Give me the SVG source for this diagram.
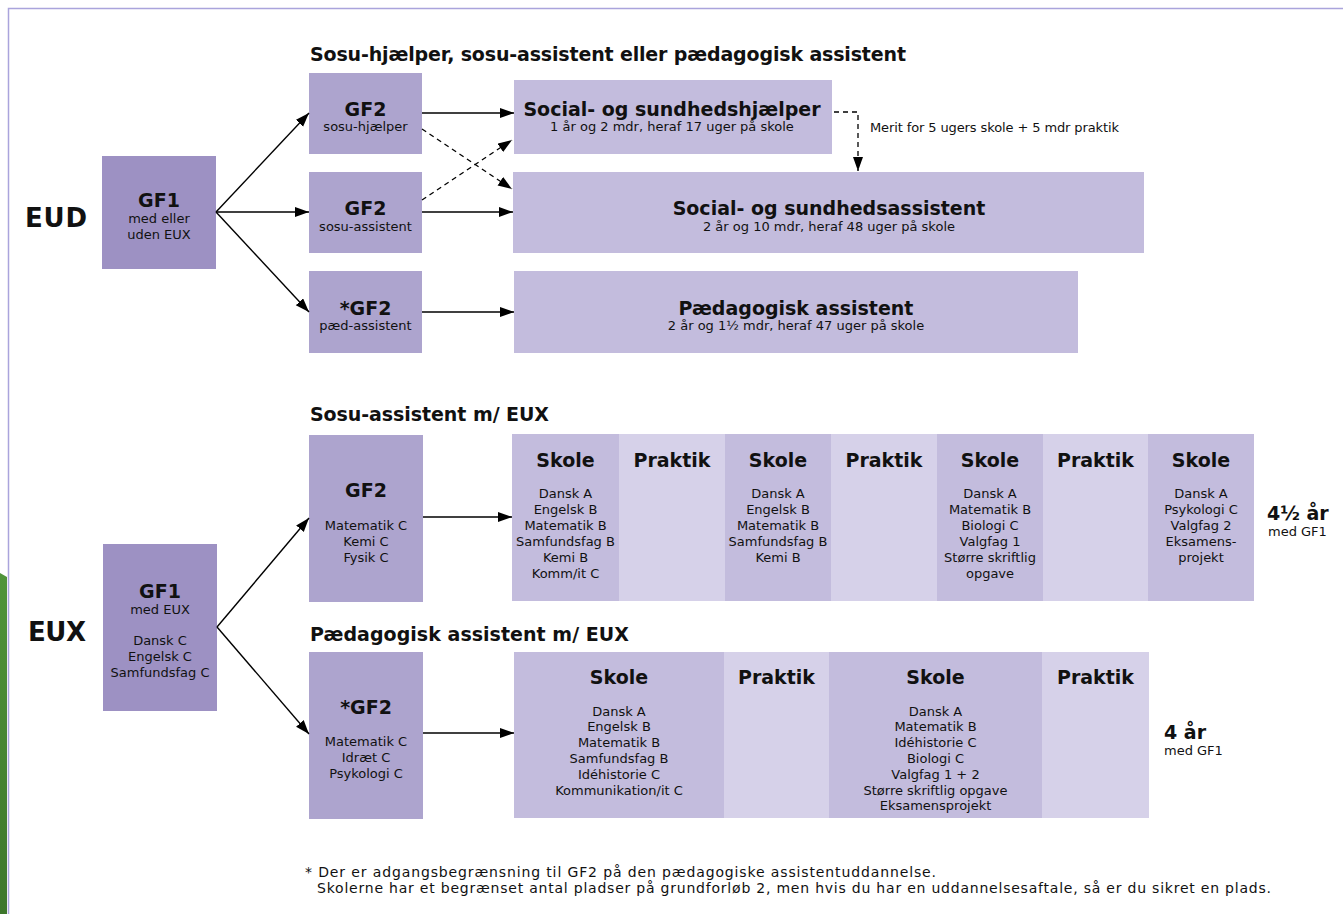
<svg xmlns="http://www.w3.org/2000/svg" width="1343" height="914" viewBox="0 0 1343 914">
<defs>
<style>
text{font-family:"DejaVu Sans","Liberation Sans",sans-serif;fill:#111;}
.h{font-size:19px;font-weight:bold;}
.big{font-size:26px;font-weight:bold;}
.t{font-size:19px;font-weight:bold;text-anchor:middle;}
.s{font-size:13px;text-anchor:middle;}
.sl{font-size:13px;}
.fn{font-size:14px;}
.c1{fill:#9d91c3;}
.c2{fill:#ada4ce;}
.c3{fill:#c3bcdd;}
.c4{fill:#d6d1e9;}
.ln{stroke:#000;stroke-width:1.4;fill:none;marker-end:url(#arr);}
.dl{stroke:#000;stroke-width:1.3;fill:none;stroke-dasharray:5,4;}
</style>
<marker id="arr" markerUnits="userSpaceOnUse" markerWidth="15" markerHeight="11" refX="14" refY="5" orient="auto">
<path d="M0,0 L14,5 L0,10 Z" fill="#000"/>
</marker>
<linearGradient id="grn" x1="0" y1="0" x2="0" y2="1">
<stop offset="0" stop-color="#50943a"/>
<stop offset="1" stop-color="#3e772c"/>
</linearGradient>
</defs>
<rect width="1343" height="914" fill="#fff"/>
<polygon points="0,573 7,577 7,914 0,914" fill="url(#grn)"/>
<rect x="8.5" y="8.5" width="1400" height="1000" fill="none" stroke="#aaa4dc" stroke-width="1.5"/>

<text class="h" x="310" y="61" textLength="596" lengthAdjust="spacing">Sosu-hjælper, sosu-assistent eller pædagogisk assistent</text>
<text class="h" x="310" y="421" textLength="239" lengthAdjust="spacing">Sosu-assistent m/ EUX</text>
<text class="h" x="310" y="641" textLength="319" lengthAdjust="spacing">Pædagogisk assistent m/ EUX</text>
<text class="big" x="25" y="227" textLength="62" lengthAdjust="spacing">EUD</text>
<text class="big" x="28" y="641" textLength="58" lengthAdjust="spacing">EUX</text>

<g id="gf1-eud">
<rect class="c1" x="102" y="156" width="114" height="113"/>
<text class="t" x="159" y="207">GF1</text>
<text class="s" x="159" y="223">med eller</text>
<text class="s" x="159" y="239">uden EUX</text>
</g>
<g id="gf2-hjaelper">
<rect class="c2" x="309" y="73" width="113" height="81"/>
<text class="t" x="365.5" y="116">GF2</text>
<text class="s" x="365.5" y="131">sosu-hjælper</text>
</g>
<g id="gf2-assistent">
<rect class="c2" x="309" y="172" width="113" height="81"/>
<text class="t" x="365.5" y="215">GF2</text>
<text class="s" x="365.5" y="230.5">sosu-assistent</text>
</g>
<g id="gf2-paed">
<rect class="c2" x="309" y="271" width="113" height="82"/>
<text class="t" x="365.5" y="315">*GF2</text>
<text class="s" x="365.5" y="330">pæd-assistent</text>
</g>
<g id="sosu-hjaelper">
<rect class="c3" x="514" y="80" width="318" height="74"/>
<text class="t" x="672" y="116">Social- og sundhedshjælper</text>
<text class="s" x="672" y="131">1 år og 2 mdr, heraf 17 uger på skole</text>
</g>
<g id="sosu-assistent">
<rect class="c3" x="513" y="172" width="631" height="81"/>
<text class="t" x="829" y="215">Social- og sundhedsassistent</text>
<text class="s" x="829" y="230.5">2 år og 10 mdr, heraf 48 uger på skole</text>
</g>
<g id="paed-assistent">
<rect class="c3" x="514" y="271" width="564" height="82"/>
<text class="t" x="796" y="314.5">Pædagogisk assistent</text>
<text class="s" x="796" y="330">2 år og 1½ mdr, heraf 47 uger på skole</text>
</g>
<text class="sl" x="870" y="131.5" textLength="249" lengthAdjust="spacing">Merit for 5 ugers skole + 5 mdr praktik</text>

<g id="gf1-eux">
<rect class="c1" x="103" y="544" width="114" height="167"/>
<text class="t" x="160" y="598">GF1</text>
<text class="s" x="160" y="613.5">med EUX</text>
<text class="s" x="160" y="645">Dansk C</text>
<text class="s" x="160" y="661">Engelsk C</text>
<text class="s" x="160" y="677">Samfundsfag C</text>
</g>
<g id="gf2-eux-sosu">
<rect class="c2" x="309" y="435" width="114" height="167"/>
<text class="t" x="366" y="497">GF2</text>
<text class="s" x="366" y="530">Matematik C</text>
<text class="s" x="366" y="546">Kemi C</text>
<text class="s" x="366" y="562">Fysik C</text>
</g>
<g id="gf2-eux-paed">
<rect class="c2" x="309" y="652" width="114" height="167"/>
<text class="t" x="366" y="714">*GF2</text>
<text class="s" x="366" y="746">Matematik C</text>
<text class="s" x="366" y="762">Idræt C</text>
<text class="s" x="366" y="778">Psykologi C</text>
</g>

<g id="sosu-eux-forloeb">
<rect class="c3" x="512" y="434" width="107" height="167"/>
<rect class="c4" x="619" y="434" width="106" height="167"/>
<rect class="c3" x="725" y="434" width="106" height="167"/>
<rect class="c4" x="831" y="434" width="106" height="167"/>
<rect class="c3" x="937" y="434" width="106" height="167"/>
<rect class="c4" x="1043" y="434" width="105" height="167"/>
<rect class="c3" x="1148" y="434" width="106" height="167"/>
<text class="t" x="565.5" y="467">Skole</text>
<text class="t" x="672" y="467">Praktik</text>
<text class="t" x="778" y="467">Skole</text>
<text class="t" x="884" y="467">Praktik</text>
<text class="t" x="990" y="467">Skole</text>
<text class="t" x="1095.5" y="467">Praktik</text>
<text class="t" x="1201" y="467">Skole</text>
<text class="s"><tspan x="565.5" y="497.5">Dansk A</tspan><tspan x="565.5" y="513.5">Engelsk B</tspan><tspan x="565.5" y="529.5">Matematik B</tspan><tspan x="565.5" y="545.5">Samfundsfag B</tspan><tspan x="565.5" y="561.5">Kemi B</tspan><tspan x="565.5" y="577.5">Komm/it C</tspan></text>
<text class="s"><tspan x="778" y="497.5">Dansk A</tspan><tspan x="778" y="513.5">Engelsk B</tspan><tspan x="778" y="529.5">Matematik B</tspan><tspan x="778" y="545.5">Samfundsfag B</tspan><tspan x="778" y="561.5">Kemi B</tspan></text>
<text class="s"><tspan x="990" y="497.5">Dansk A</tspan><tspan x="990" y="513.5">Matematik B</tspan><tspan x="990" y="529.5">Biologi C</tspan><tspan x="990" y="545.5">Valgfag 1</tspan><tspan x="990" y="561.5">Større skriftlig</tspan><tspan x="990" y="577.5">opgave</tspan></text>
<text class="s"><tspan x="1201" y="497.5">Dansk A</tspan><tspan x="1201" y="513.5">Psykologi C</tspan><tspan x="1201" y="529.5">Valgfag 2</tspan><tspan x="1201" y="545.5">Eksamens-</tspan><tspan x="1201" y="561.5">projekt</tspan></text>
</g>
<text class="h" x="1267" y="520">4½ år</text>
<text class="sl" x="1268" y="535.5">med GF1</text>

<g id="paed-eux-forloeb">
<rect class="c3" x="514" y="652" width="210" height="166"/>
<rect class="c4" x="724" y="652" width="105" height="166"/>
<rect class="c3" x="829" y="652" width="213" height="166"/>
<rect class="c4" x="1042" y="652" width="107" height="166"/>
<text class="t" x="619" y="684">Skole</text>
<text class="t" x="776.5" y="684">Praktik</text>
<text class="t" x="935.5" y="684">Skole</text>
<text class="t" x="1095.5" y="684">Praktik</text>
<text class="s"><tspan x="619" y="715.5">Dansk A</tspan><tspan x="619" y="731.3">Engelsk B</tspan><tspan x="619" y="747.1">Matematik B</tspan><tspan x="619" y="762.9">Samfundsfag B</tspan><tspan x="619" y="778.7">Idéhistorie C</tspan><tspan x="619" y="794.5">Kommunikation/it C</tspan></text>
<text class="s"><tspan x="935.5" y="715.5">Dansk A</tspan><tspan x="935.5" y="731.3">Matematik B</tspan><tspan x="935.5" y="747.1">Idéhistorie C</tspan><tspan x="935.5" y="762.9">Biologi C</tspan><tspan x="935.5" y="778.7">Valgfag 1 + 2</tspan><tspan x="935.5" y="794.5">Større skriftlig opgave</tspan><tspan x="935.5" y="810.3">Eksamensprojekt</tspan></text>
</g>
<text class="h" x="1164" y="739">4 år</text>
<text class="sl" x="1164" y="754.5">med GF1</text>

<g id="connectors">
<path class="ln" d="M216,212 L309,113"/>
<path class="ln" d="M216,212 L309,212"/>
<path class="ln" d="M216,212 L309,312"/>
<path class="ln" d="M422,113 L514,113"/>
<path class="ln" d="M422,212 L513,212"/>
<path class="ln" d="M422,312 L514,312"/>
<path class="dl" d="M422,129 L512,189" marker-end="url(#arr)"/>
<path class="dl" d="M422,200 L512,140" marker-end="url(#arr)"/>
<path class="dl" d="M834,112 L858,112 L858,171" marker-end="url(#arr)"/>
<path class="ln" d="M217,627 L309,518"/>
<path class="ln" d="M217,627 L309,734"/>
<path class="ln" d="M423,517 L512,517"/>
<path class="ln" d="M423,733 L514,733"/>
</g>

<text class="fn" x="305" y="877" textLength="631" lengthAdjust="spacing">* Der er adgangsbegrænsning til GF2 på den pædagogiske assistentuddannelse.</text>
<text class="fn" x="317" y="893" textLength="954" lengthAdjust="spacing">Skolerne har et begrænset antal pladser på grundforløb 2, men hvis du har en uddannelsesaftale, så er du sikret en plads.</text>
</svg>
